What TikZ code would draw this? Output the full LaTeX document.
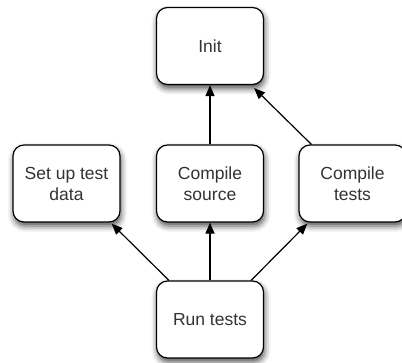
\documentclass[tikz,border=0pt]{standalone}
\usepackage{fontspec}
\setmainfont{Liberation Sans}
\usetikzlibrary{arrows.meta,calc,shadows.blur}
\tikzset{
  task/.style={draw=black, line width=1.2pt, fill=white, rounded corners=11pt,
    minimum width=107pt, minimum height=77pt, align=center, inner sep=2pt,
    text=black!80, font=\fontsize{17.5}{21}\selectfont,
    blur shadow={shadow xshift=1pt, shadow yshift=-4pt, shadow blur radius=6pt, shadow opacity=70}},
  dep/.style={draw=black, line width=1.2pt, -{Triangle[length=11pt,width=9pt]}}
}
\begin{document}
\begin{tikzpicture}[x=1pt,y=1pt]
\useasboundingbox (0,0) rectangle (402,-362);
\node[task] (init)  at (210,-46)  {Init};
\node[task] (setup) at (66.5,-183.5) {Set up test\\data};
\node[task] (csrc)  at (210,-183.5) {Compile\\source};
\node[task] (ctst)  at (352.5,-183.5) {Compile\\tests};
\node[task] (run)   at (210,-319.5) {Run tests};
\draw[dep] (csrc.north) -- (init.south);
\draw[dep] ($(ctst.north west)+(13,0)$) -- ($(init.south east)+(-10,-3)$);
\draw[dep] (run.north) -- (csrc.south);
\draw[dep] ($(run.north west)+(13,0)$) -- ($(setup.south east)+(-9,-1)$);
\draw[dep] ($(run.north east)+(-13,0)$) -- ($(ctst.south west)+(9,-1)$);
\end{tikzpicture}
\end{document}
